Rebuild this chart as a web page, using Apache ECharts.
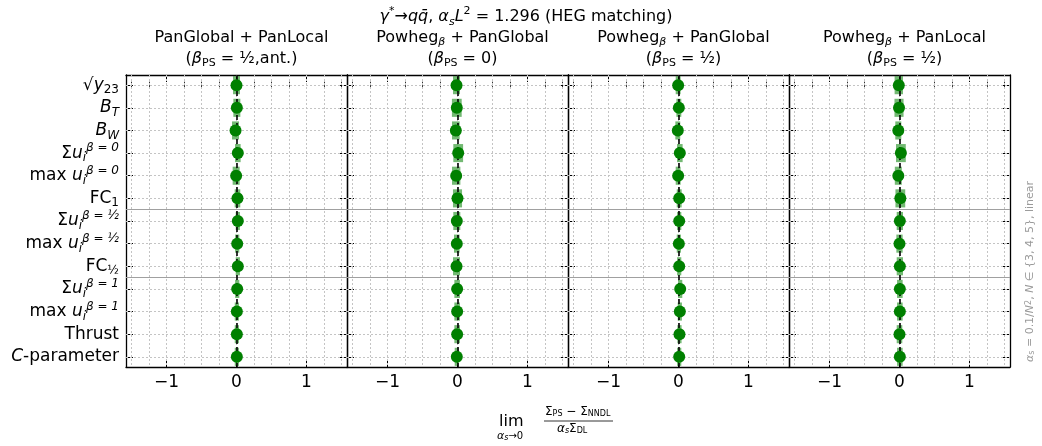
<!DOCTYPE html>
<html>
<head>
<meta charset="utf-8">
<script src="https://cdn.jsdelivr.net/npm/echarts@6/dist/echarts.min.js"></script>
<style>
  html, body { margin: 0; padding: 0; background: #fff; }
  #chart { width: 1042px; height: 446px; }
</style>
</head>
<body>
<div id="chart"></div>
<script>
// observables, top to bottom (rich text)
const observables = [
  '√{i|y}{sub|23}',
  '{i|B}{subi|T}',
  '{i|B}{subi|W}',
  'Σ{i|u}{subi|i}{sup|β = 0}',
  'max {i|u}{subi|i}{sup|β = 0}',
  'FC{sub|1}',
  'Σ{i|u}{subi|i}{sup|β = ½}',
  'max {i|u}{subi|i}{sup|β = ½}',
  'FC{sub|½}',
  'Σ{i|u}{subi|i}{sup|β = 1}',
  'max {i|u}{subi|i}{sup|β = 1}',
  'Thrust',
  '{i|C}-parameter'
];

const panelTitles = [
  'PanGlobal + PanLocal\n({i|β}{sub|PS} = ½,ant.)',
  'Powheg{subi|β} + PanGlobal\n({i|β}{sub|PS} = 0)',
  'Powheg{subi|β} + PanGlobal\n({i|β}{sub|PS} = ½)',
  'Powheg{subi|β} + PanLocal\n({i|β}{sub|PS} = ½)'
];

// extrapolated values per panel
const panelValues = [
  [0.0, 0.005, -0.014, 0.019, -0.005, 0.014, 0.019, 0.01, 0.019, 0.01, 0.005, 0.005, 0.005],
  [-0.014, -0.01, -0.024, 0.01, -0.019, 0.0, -0.01, -0.01, -0.014, -0.005, -0.005, -0.005, -0.01],
  [-0.005, 0.005, -0.01, 0.019, -0.005, 0.01, 0.01, 0.005, 0.01, 0.024, 0.019, 0.014, 0.01],
  [-0.01, -0.007, -0.017, 0.02, -0.017, 0.012, 0.005, 0.0, 0.005, 0.005, 0.005, 0.0, 0.005]
];
// uncertainties per panel
const panelErrors = [
  [0.05, 0.05, 0.05, 0.04, 0.05, 0.04, 0.03, 0.03, 0.03, 0.03, 0.03, 0.03, 0.03],
  [0.05, 0.07, 0.055, 0.07, 0.06, 0.065, 0.05, 0.04, 0.05, 0.04, 0.04, 0.04, 0.03],
  [0.035, 0.035, 0.035, 0.04, 0.035, 0.035, 0.03, 0.03, 0.03, 0.03, 0.03, 0.03, 0.03],
  [0.06, 0.065, 0.043, 0.07, 0.05, 0.07, 0.045, 0.045, 0.045, 0.04, 0.04, 0.04, 0.04]
];

const xMajorTicks = [-1, 0, 1];
const xMinorTicks = [-1.5, -1.25, -0.75, -0.5, -0.25, 0.25, 0.5, 0.75, 1.25, 1.5];
const xGridValues = [-1.5, -1.25, -1, -0.75, -0.5, -0.25, 0, 0.25, 0.5, 0.75, 1, 1.25, 1.5];
const rowIndexes = observables.map((_, i) => i);
const separators = [5.5, 8.5];

const FONT = 'DejaVu Sans';

const gridLeft = 126, gridW = 221, gridTop = 75, gridH = 292;
const xMin = -1.58, xMax = 1.58, yMin = -0.45, yMax = 12.45;

const chart = echarts.init(document.getElementById('chart'));

const grids = [], xAxes = [], yAxes = [], series = [], titles = [];

const fmtTick = v => (v < 0 ? '−' + (-v) : String(v));

panelValues.forEach((vals, p) => {
  grids.push({ left: gridLeft + gridW * p, top: gridTop, width: gridW, height: gridH });

  const xBase = {
    gridIndex: p, type: 'value', min: xMin, max: xMax,
    splitLine: { show: false }
  };
  ['bottom', 'top'].forEach(pos => {
    xAxes.push(Object.assign({}, xBase, {
      position: pos,
      axisLine: { show: true, onZero: false, lineStyle: { color: '#000', width: 1.3 } },
      axisTick: { show: true, inside: true, length: 7, customValues: xMajorTicks, lineStyle: { color: '#000', width: 1 } },
      axisLabel: {
        show: pos === 'bottom', customValues: xMajorTicks, formatter: fmtTick,
        showMinLabel: true, showMaxLabel: true,
        color: '#000', fontSize: 17, fontFamily: FONT, margin: 7
      }
    }));
    xAxes.push(Object.assign({}, xBase, {
      position: pos,
      axisLine: { show: false },
      axisTick: { show: true, inside: true, length: 3.5, customValues: xMinorTicks, lineStyle: { color: '#000', width: 0.8 } },
      axisLabel: { show: false }
    }));
  });

  ['left', 'right'].forEach(pos => {
    yAxes.push({
      gridIndex: p, type: 'value', inverse: true, min: yMin, max: yMax, position: pos,
      splitLine: { show: false },
      axisLine: { show: true, onZero: false, lineStyle: { color: '#000', width: 1.3 } },
      axisTick: { show: true, inside: true, length: 7, customValues: rowIndexes, lineStyle: { color: '#000', width: 1 } },
      axisLabel: {
        show: pos === 'left' && p === 0, customValues: rowIndexes,
        showMinLabel: true, showMaxLabel: true, hideOverlap: false,
        formatter: v => observables[Math.round(v)],
        color: '#000', fontSize: 17, fontFamily: FONT, margin: 7, lineHeight: 22,
        rich: {
          i: { fontStyle: 'italic', fontSize: 17, fontFamily: FONT },
          sub: { fontSize: 12, lineHeight: 9, verticalAlign: 'bottom', fontFamily: FONT },
          subi: { fontSize: 12, lineHeight: 9, verticalAlign: 'bottom', fontStyle: 'italic', fontFamily: FONT },
          sup: { fontSize: 12, lineHeight: 9, verticalAlign: 'top', fontStyle: 'italic', fontFamily: FONT }
        }
      }
    });
  });

  const xi = p * 4, yi = p * 2;
  const rows = vals.map((v, i) => [v, panelErrors[p][i], i]);

  // grid lines and separators
  series.push({
    type: 'scatter', xAxisIndex: xi, yAxisIndex: yi, data: [], z: 1, silent: true,
    markLine: {
      z: 1, symbol: 'none', silent: true, animation: false, label: { show: false },
      data: xGridValues.map(v => ({ xAxis: v, lineStyle: { color: '#c4c4c4', type: [2, 2], width: 1 } }))
        .concat(rowIndexes.map(v => ({ yAxis: v, lineStyle: { color: '#c4c4c4', type: [2, 2], width: 1 } })))
        .concat(separators.map(v => ({ yAxis: v, lineStyle: { color: '#a0a0a0', type: 'solid', width: 1.2 } })))
    }
  });

  // uncertainty boxes
  series.push({
    type: 'custom', xAxisIndex: xi, yAxisIndex: yi, z: 2, silent: true,
    data: rows,
    encode: { x: 0, y: 2 },
    renderItem: (params, api) => {
      const x = api.value(0), err = api.value(1), y = api.value(2);
      const a = api.coord([x - err, y]);
      const b = api.coord([x + err, y]);
      const h = api.size([0, 1])[1] * 0.8;
      return {
        type: 'rect',
        shape: { x: a[0], y: a[1] - h / 2, width: b[0] - a[0], height: h },
        style: { fill: 'rgba(0,128,0,0.55)' }
      };
    }
  });

  // zero reference
  series.push({
    type: 'scatter', xAxisIndex: xi, yAxisIndex: yi, data: [], z: 3, silent: true,
    markLine: {
      z: 3, symbol: 'none', silent: true, animation: false, label: { show: false },
      data: [{ xAxis: 0, lineStyle: { color: '#000', type: [5, 3], width: 1.6 } }]
    }
  });

  series.push({
    type: 'scatter', xAxisIndex: xi, yAxisIndex: yi, z: 4,
    data: rows.map(r => [r[0], r[2]]),
    symbol: 'circle', symbolSize: 12,
    itemStyle: { color: '#008000', opacity: 1 }
  });

  titles.push({
    text: panelTitles[p],
    left: gridLeft + gridW * p + gridW / 2, top: 22, textAlign: 'center',
    textStyle: {
      fontSize: 16, fontWeight: 'normal', color: '#000', fontFamily: FONT, lineHeight: 21,
      rich: {
        i: { fontStyle: 'italic', fontSize: 16, fontFamily: FONT, lineHeight: 21 },
        sub: { fontSize: 11, lineHeight: 8, verticalAlign: 'bottom', fontFamily: FONT },
        subi: { fontSize: 11, lineHeight: 8, verticalAlign: 'bottom', fontStyle: 'italic', fontFamily: FONT }
      }
    }
  });
});

titles.push({
  text: '{i|γ}{sup|*}→{i|q}{i|q̄}, {i|α}{subi|s}{i|L}{sup|2} = 1.296 (HEG matching)',
  left: 521, top: 1, textAlign: 'center',
  textStyle: {
    fontSize: 16, fontWeight: 'normal', color: '#000', fontFamily: FONT, lineHeight: 22,
    rich: {
      i: { fontStyle: 'italic', fontSize: 16, fontFamily: FONT, lineHeight: 22 },
      sup: { fontSize: 11, lineHeight: 10, verticalAlign: 'top', fontFamily: FONT },
      subi: { fontSize: 11, lineHeight: 8, verticalAlign: 'bottom', fontStyle: 'italic', fontFamily: FONT }
    }
  }
});

const option = {
  animation: false,
  backgroundColor: '#fff',
  title: titles,
  grid: grids,
  xAxis: xAxes,
  yAxis: yAxes,
  series: series,
  graphic: [
    { type: 'text', left: 499, top: 414, style: { text: 'lim', font: '16px "DejaVu Sans"', fill: '#000' } },
    { type: 'text', left: 497, top: 431, style: { text: '{i|α}{s|s}→0', font: '10px "DejaVu Sans"', fill: '#000',
        rich: { i: { fontStyle: 'italic', fontSize: 11, fontFamily: FONT }, s: { fontStyle: 'italic', fontSize: 8, fontFamily: FONT, verticalAlign: 'bottom', lineHeight: 6 } } } },
    { type: 'text', left: 545, top: 406, style: { text: 'Σ{s|PS} − Σ{s|NNDL}', font: '12px "DejaVu Sans"', fill: '#000',
        rich: { s: { fontSize: 8, fontFamily: FONT, verticalAlign: 'bottom', lineHeight: 5 } } } },
    { type: 'line', shape: { x1: 544, y1: 421, x2: 613, y2: 421 }, style: { stroke: '#000', lineWidth: 0.8 } },
    { type: 'text', left: 557, top: 423, style: { text: '{i|α}{s|s}Σ{n|DL}', font: '12px "DejaVu Sans"', fill: '#000',
        rich: { i: { fontStyle: 'italic', fontSize: 12, fontFamily: FONT }, s: { fontStyle: 'italic', fontSize: 8, fontFamily: FONT, verticalAlign: 'bottom', lineHeight: 5 }, n: { fontSize: 8, fontFamily: FONT, verticalAlign: 'bottom', lineHeight: 5 } } } },
    { type: 'text', x: 1025, y: 362, rotation: Math.PI / 2,
      style: { text: '{i|α}{s|s} = 0.1/{i|N}{p|2}, {i|N} ∈ {3, 4, 5}, linear', font: '11px "DejaVu Sans"', fill: '#9a9a9a',
        rich: { i: { fontStyle: 'italic', fontSize: 11, fontFamily: FONT, fill: '#9a9a9a' },
                s: { fontSize: 8, fontFamily: FONT, verticalAlign: 'bottom', lineHeight: 6, fill: '#9a9a9a' },
                p: { fontSize: 8, fontFamily: FONT, verticalAlign: 'top', lineHeight: 6, fill: '#9a9a9a' } } } }
  ]
};

chart.setOption(option);
</script>
</body>
</html>
